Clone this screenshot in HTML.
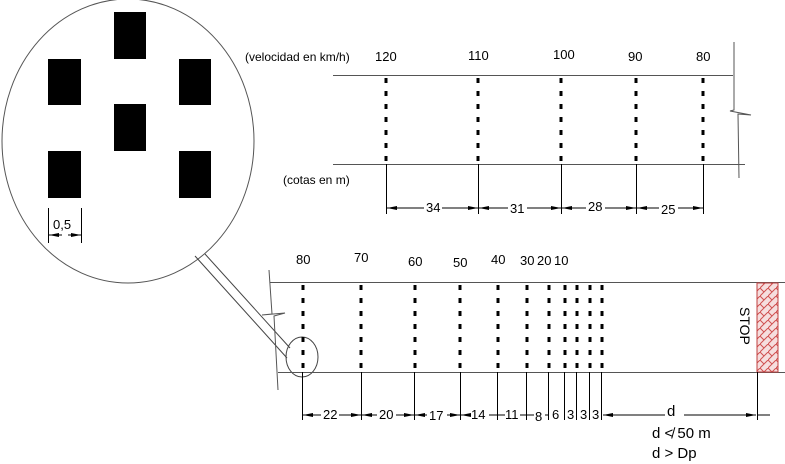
<!DOCTYPE html>
<html><head><meta charset="utf-8"><style>
html,body{margin:0;padding:0;background:#fff;width:785px;height:464px;overflow:hidden}
text{font-family:"Liberation Sans",sans-serif;font-size:13px;fill:#000}
</style></head><body>
<svg width="785" height="464" viewBox="0 0 785 464" xmlns="http://www.w3.org/2000/svg">
<defs>
<pattern id="h" width="8" height="8" patternUnits="userSpaceOnUse">
<rect width="8" height="8" fill="#f6dede"/>
<path d="M0 8L8 0M0 0L4 4" stroke="#d05050" stroke-width="1"/>
</pattern>
<marker id="a" viewBox="0 0 10 6" refX="10" refY="3" markerWidth="10" markerHeight="6" orient="auto-start-reverse"><path d="M0 1L10 3L0 5z" fill="#000"/></marker>
</defs>
<ellipse cx="128" cy="141" rx="126" ry="142" fill="none" stroke="#555" stroke-width="1"/>
<g fill="#000">
<rect x="114" y="12" width="32" height="47"/>
<rect x="48" y="59" width="33" height="46"/>
<rect x="179" y="59" width="32" height="46"/>
<rect x="114" y="104" width="32" height="47"/>
<rect x="48" y="151" width="33" height="47"/>
<rect x="179" y="151" width="32" height="47"/>
</g>
<g stroke="#000" stroke-width="1">
<line x1="48.5" y1="208" x2="48.5" y2="243"/><line x1="81.5" y1="208" x2="81.5" y2="243"/>
<line x1="49" y1="235" x2="62" y2="235" marker-start="url(#a)"/>
<line x1="68" y1="235" x2="81" y2="235" marker-end="url(#a)"/>
</g>
<text x="53" y="229">0,5</text>
<g stroke="#444" stroke-width="1" fill="none">
<line x1="195" y1="256" x2="287" y2="358"/><line x1="205" y1="254" x2="290" y2="348"/>
<ellipse cx="302" cy="357" rx="16" ry="20"/>
</g>
<text x="245" y="61" style="font-size:12px">(velocidad en km/h)</text>
<text x="375" y="61">120</text><text x="468" y="60">110</text><text x="553" y="59">100</text><text x="628" y="61">90</text><text x="696" y="61">80</text>
<text x="283" y="184" style="font-size:12px">(cotas en m)</text>
<g stroke="#555" stroke-width="1" fill="none">
<line x1="333" y1="75.5" x2="733" y2="75.5"/>
<line x1="333" y1="164.5" x2="745" y2="164.5"/>
<polyline points="734,42 734,110 730,111 751,115 738,114 739,178"/>
</g>
<g stroke="#000" stroke-width="3" stroke-dasharray="5,8">
<line x1="386" y1="78" x2="386" y2="168"/><line x1="478" y1="78" x2="478" y2="168"/><line x1="561" y1="78" x2="561" y2="168"/><line x1="636" y1="78" x2="636" y2="168"/><line x1="703" y1="78" x2="703" y2="168"/>
</g>
<g stroke="#000" stroke-width="1">
<line x1="386.5" y1="164" x2="386.5" y2="214"/><line x1="478.5" y1="164" x2="478.5" y2="214"/><line x1="561.5" y1="164" x2="561.5" y2="214"/><line x1="636.5" y1="164" x2="636.5" y2="214"/><line x1="703.5" y1="164" x2="703.5" y2="214"/>
<line x1="387" y1="208" x2="424" y2="208" marker-start="url(#a)"/><line x1="442" y1="208" x2="478" y2="208" marker-end="url(#a)"/>
<line x1="479" y1="208" x2="508" y2="208" marker-start="url(#a)"/><line x1="527" y1="208" x2="561" y2="208" marker-end="url(#a)"/>
<line x1="562" y1="208" x2="586" y2="208" marker-start="url(#a)"/><line x1="605" y1="208" x2="636" y2="208" marker-end="url(#a)"/>
<line x1="637" y1="208" x2="659" y2="208" marker-start="url(#a)"/><line x1="678" y1="208" x2="703" y2="208" marker-end="url(#a)"/>
</g>
<text x="426" y="212">34</text><text x="510" y="213">31</text><text x="588" y="211">28</text><text x="661" y="214">25</text>
<g stroke="#555" stroke-width="1" fill="none">
<line x1="270" y1="282.5" x2="785" y2="282.5"/>
<line x1="278" y1="372.5" x2="785" y2="372.5"/>
<polyline points="269,270 272,314 262,315 285,313 274,316 278,390"/>
</g>
<rect x="757" y="283" width="21" height="89" fill="url(#h)" stroke="#c04040"/>
<text x="740" y="307" transform="rotate(90 740 307)" style="font-size:14px">STOP</text>
<text x="296" y="264">80</text><text x="354" y="262">70</text><text x="408" y="266">60</text><text x="453" y="267">50</text><text x="491" y="264">40</text><text x="520" y="265">30</text><text x="537" y="265">20</text><text x="554" y="265">10</text>
<g stroke="#000" stroke-width="3" stroke-dasharray="5,8">
<line x1="303" y1="285" x2="303" y2="376"/><line x1="361" y1="285" x2="361" y2="376"/><line x1="415" y1="285" x2="415" y2="376"/><line x1="460" y1="285" x2="460" y2="376"/><line x1="498" y1="285" x2="498" y2="376"/><line x1="527" y1="285" x2="527" y2="376"/><line x1="549" y1="285" x2="549" y2="376"/><line x1="565" y1="285" x2="565" y2="376"/><line x1="577" y1="285" x2="577" y2="376"/><line x1="590" y1="285" x2="590" y2="376"/><line x1="602" y1="285" x2="602" y2="376"/>
</g>
<g stroke="#000" stroke-width="1">
<line x1="302.5" y1="372" x2="302.5" y2="420"/><line x1="361.5" y1="372" x2="361.5" y2="420"/><line x1="414.5" y1="372" x2="414.5" y2="420"/><line x1="460.5" y1="372" x2="460.5" y2="420"/><line x1="497.5" y1="372" x2="497.5" y2="420"/><line x1="526.5" y1="372" x2="526.5" y2="420"/><line x1="548.5" y1="372" x2="548.5" y2="420"/><line x1="564.5" y1="372" x2="564.5" y2="420"/><line x1="576.5" y1="372" x2="576.5" y2="420"/><line x1="589.5" y1="372" x2="589.5" y2="420"/><line x1="601.5" y1="372" x2="601.5" y2="420"/><line x1="757.5" y1="372" x2="757.5" y2="420"/>
<line x1="303" y1="415" x2="321" y2="415" marker-start="url(#a)"/><line x1="339" y1="415" x2="361" y2="415" marker-end="url(#a)"/>
<line x1="362" y1="415" x2="377" y2="415" marker-start="url(#a)"/><line x1="396" y1="415" x2="414" y2="415" marker-end="url(#a)"/>
<line x1="415" y1="415" x2="427" y2="415" marker-start="url(#a)"/><line x1="447" y1="415" x2="460" y2="415" marker-end="url(#a)"/>
<line x1="461" y1="415" x2="469" y2="415" marker-start="url(#a)"/><line x1="489" y1="415" x2="497" y2="415"/>
<line x1="498" y1="415" x2="505" y2="415"/><line x1="520" y1="415" x2="526" y2="415"/>
<line x1="527" y1="415" x2="534" y2="415"/><line x1="545" y1="415" x2="548" y2="415"/>
<line x1="603" y1="415" x2="665" y2="415" marker-start="url(#a)"/><line x1="684" y1="415" x2="756" y2="415" marker-end="url(#a)"/>
<line x1="757" y1="415" x2="770" y2="415"/>
</g>
<text x="323" y="419">22</text><text x="379" y="419">20</text><text x="429" y="420">17</text><text x="471" y="419">14</text><text x="505" y="419">11</text><text x="535" y="421">8</text><text x="552" y="419">6</text><text x="567" y="419">3</text><text x="580" y="419">3</text><text x="592" y="419">3</text>
<text x="667" y="416" style="font-size:15px">d</text>
<text x="652" y="438" style="font-size:15px">d ≮ 50 m</text>
<text x="652" y="458" style="font-size:15px">d &gt; Dp</text>
</svg>
</body></html>
